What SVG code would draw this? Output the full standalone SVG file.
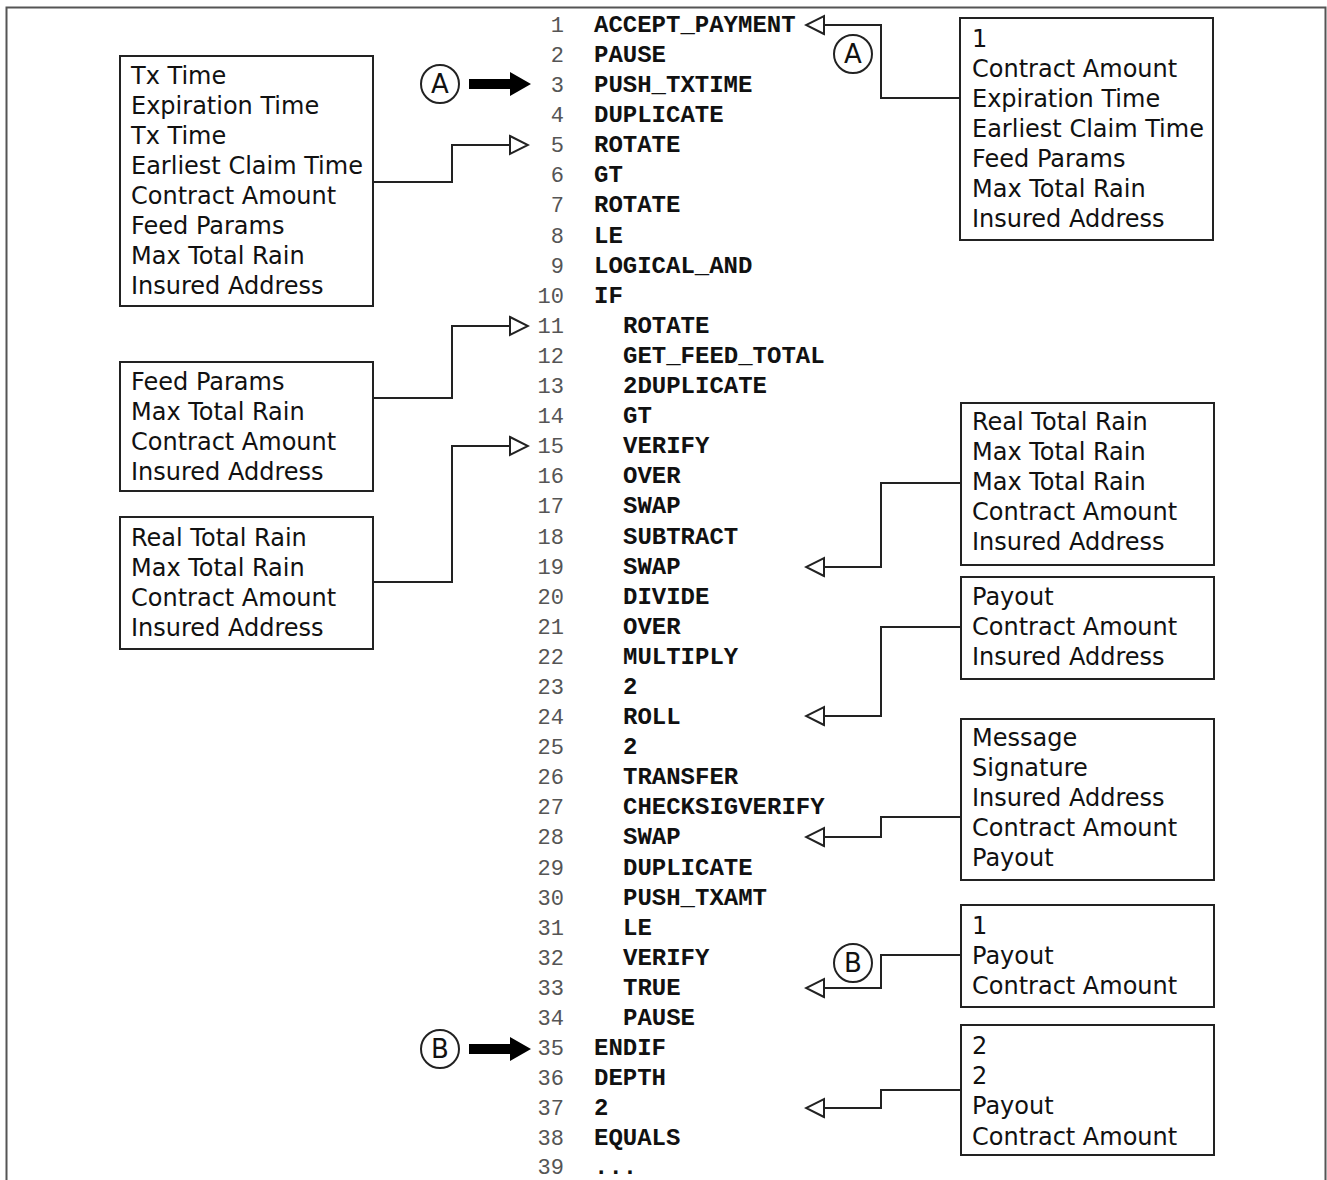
<svg xmlns="http://www.w3.org/2000/svg" width="1327" height="1180" viewBox="0 0 1327 1180">
<defs>
<style>
.box{fill:#fff;stroke:#222;stroke-width:2}
.bt{font-family:"DejaVu Sans",sans-serif;font-size:24px;fill:#111}
.num{font-family:"Liberation Mono",monospace;font-size:22px;fill:#555}
.code{font-family:"Liberation Mono",monospace;font-size:24px;font-weight:bold;fill:#111}
.con{fill:none;stroke:#222;stroke-width:2}
.circ{fill:#fff;stroke:#222;stroke-width:2}
.ct{font-family:"DejaVu Sans",sans-serif;font-size:26px;fill:#111;text-anchor:middle}
</style>
<marker id="hollow" markerUnits="userSpaceOnUse" markerWidth="22" markerHeight="22" viewBox="-2 -2 22 22" refX="18" refY="9" orient="auto">
<path d="M0,0 L18,9 L0,18 Z" fill="#fff" stroke="#222" stroke-width="2"/>
</marker>
</defs>
<rect width="1327" height="1180" fill="#fff"/>
<path d="M6.5,1180 V7.5 H1325.5 V1180" fill="none" stroke="#555" stroke-width="2"/>

<g id="code">
<g class="num" text-anchor="end">
<text x="564" y="32">1</text><text x="564" y="62">2</text><text x="564" y="92">3</text><text x="564" y="122">4</text><text x="564" y="152">5</text><text x="564" y="182">6</text><text x="564" y="212">7</text><text x="564" y="243">8</text><text x="564" y="273">9</text><text x="564" y="303">10</text>
<text x="564" y="333">11</text><text x="564" y="363">12</text><text x="564" y="393">13</text><text x="564" y="423">14</text><text x="564" y="453">15</text><text x="564" y="483">16</text><text x="564" y="513">17</text><text x="564" y="544">18</text><text x="564" y="574">19</text><text x="564" y="604">20</text>
<text x="564" y="634">21</text><text x="564" y="664">22</text><text x="564" y="694">23</text><text x="564" y="724">24</text><text x="564" y="754">25</text><text x="564" y="784">26</text><text x="564" y="814">27</text><text x="564" y="844">28</text><text x="564" y="875">29</text><text x="564" y="905">30</text>
<text x="564" y="935">31</text><text x="564" y="965">32</text><text x="564" y="995">33</text><text x="564" y="1025">34</text><text x="564" y="1055">35</text><text x="564" y="1085">36</text><text x="564" y="1115">37</text><text x="564" y="1145">38</text><text x="564" y="1174">39</text>
</g>
<g class="code">
<text x="594" y="32">ACCEPT_PAYMENT</text>
<text x="594" y="62">PAUSE</text>
<text x="594" y="92">PUSH_TXTIME</text>
<text x="594" y="122">DUPLICATE</text>
<text x="594" y="152">ROTATE</text>
<text x="594" y="182">GT</text>
<text x="594" y="212">ROTATE</text>
<text x="594" y="243">LE</text>
<text x="594" y="273">LOGICAL_AND</text>
<text x="594" y="303">IF</text>
<text x="623" y="333">ROTATE</text>
<text x="623" y="363">GET_FEED_TOTAL</text>
<text x="623" y="393">2DUPLICATE</text>
<text x="623" y="423">GT</text>
<text x="623" y="453">VERIFY</text>
<text x="623" y="483">OVER</text>
<text x="623" y="513">SWAP</text>
<text x="623" y="544">SUBTRACT</text>
<text x="623" y="574">SWAP</text>
<text x="623" y="604">DIVIDE</text>
<text x="623" y="634">OVER</text>
<text x="623" y="664">MULTIPLY</text>
<text x="623" y="694">2</text>
<text x="623" y="724">ROLL</text>
<text x="623" y="754">2</text>
<text x="623" y="784">TRANSFER</text>
<text x="623" y="814">CHECKSIGVERIFY</text>
<text x="623" y="844">SWAP</text>
<text x="623" y="875">DUPLICATE</text>
<text x="623" y="905">PUSH_TXAMT</text>
<text x="623" y="935">LE</text>
<text x="623" y="965">VERIFY</text>
<text x="623" y="995">TRUE</text>
<text x="623" y="1025">PAUSE</text>
<text x="594" y="1055">ENDIF</text>
<text x="594" y="1085">DEPTH</text>
<text x="594" y="1115">2</text>
<text x="594" y="1145">EQUALS</text>
<text x="594" y="1174">...</text>
</g>
</g>

<g id="box-left-1">
<rect class="box" x="120" y="56" width="253" height="250"/>
<text class="bt" x="131" y="84">Tx Time</text>
<text class="bt" x="131" y="114">Expiration Time</text>
<text class="bt" x="131" y="144">Tx Time</text>
<text class="bt" x="131" y="174">Earliest Claim Time</text>
<text class="bt" x="131" y="204">Contract Amount</text>
<text class="bt" x="131" y="234">Feed Params</text>
<text class="bt" x="131" y="264">Max Total Rain</text>
<text class="bt" x="131" y="294">Insured Address</text>
</g>
<g id="box-left-2">
<rect class="box" x="120" y="362" width="253" height="129"/>
<text class="bt" x="131" y="390">Feed Params</text>
<text class="bt" x="131" y="420">Max Total Rain</text>
<text class="bt" x="131" y="450">Contract Amount</text>
<text class="bt" x="131" y="480">Insured Address</text>
</g>
<g id="box-left-3">
<rect class="box" x="120" y="517" width="253" height="132"/>
<text class="bt" x="131" y="546">Real Total Rain</text>
<text class="bt" x="131" y="576">Max Total Rain</text>
<text class="bt" x="131" y="606">Contract Amount</text>
<text class="bt" x="131" y="636">Insured Address</text>
</g>
<g id="box-right-1">
<rect class="box" x="960" y="18" width="253" height="222"/>
<text class="bt" x="972" y="47">1</text>
<text class="bt" x="972" y="77">Contract Amount</text>
<text class="bt" x="972" y="107">Expiration Time</text>
<text class="bt" x="972" y="137">Earliest Claim Time</text>
<text class="bt" x="972" y="167">Feed Params</text>
<text class="bt" x="972" y="197">Max Total Rain</text>
<text class="bt" x="972" y="227">Insured Address</text>
</g>
<g id="box-right-2">
<rect class="box" x="961" y="403" width="253" height="162"/>
<text class="bt" x="972" y="430">Real Total Rain</text>
<text class="bt" x="972" y="460">Max Total Rain</text>
<text class="bt" x="972" y="490">Max Total Rain</text>
<text class="bt" x="972" y="520">Contract Amount</text>
<text class="bt" x="972" y="550">Insured Address</text>
</g>
<g id="box-right-3">
<rect class="box" x="961" y="577" width="253" height="102"/>
<text class="bt" x="972" y="605">Payout</text>
<text class="bt" x="972" y="635">Contract Amount</text>
<text class="bt" x="972" y="665">Insured Address</text>
</g>
<g id="box-right-4">
<rect class="box" x="961" y="719" width="253" height="161"/>
<text class="bt" x="972" y="746">Message</text>
<text class="bt" x="972" y="776">Signature</text>
<text class="bt" x="972" y="806">Insured Address</text>
<text class="bt" x="972" y="836">Contract Amount</text>
<text class="bt" x="972" y="866">Payout</text>
</g>
<g id="box-right-5">
<rect class="box" x="961" y="905" width="253" height="102"/>
<text class="bt" x="972" y="934">1</text>
<text class="bt" x="972" y="964">Payout</text>
<text class="bt" x="972" y="994">Contract Amount</text>
</g>
<g id="box-right-6">
<rect class="box" x="961" y="1025" width="253" height="130"/>
<text class="bt" x="972" y="1054">2</text>
<text class="bt" x="972" y="1084">2</text>
<text class="bt" x="972" y="1114">Payout</text>
<text class="bt" x="972" y="1145">Contract Amount</text>
</g>

<g id="connectors">
<path class="con" d="M960,98 H881 V25 H806" marker-end="url(#hollow)"/>
<path class="con" d="M373,182 H452 V145 H528" marker-end="url(#hollow)"/>
<path class="con" d="M373,398 H452 V326 H528" marker-end="url(#hollow)"/>
<path class="con" d="M373,582 H452 V446 H528" marker-end="url(#hollow)"/>
<path class="con" d="M961,483 H881 V567 H806" marker-end="url(#hollow)"/>
<path class="con" d="M961,627 H881 V716 H806" marker-end="url(#hollow)"/>
<path class="con" d="M961,817 H881 V837 H806" marker-end="url(#hollow)"/>
<path class="con" d="M961,955 H881 V988 H806" marker-end="url(#hollow)"/>
<path class="con" d="M961,1090 H881 V1108 H806" marker-end="url(#hollow)"/>
<polygon points="469,79 510,79 510,72 531,84 510,96 510,89 469,89" fill="#000"/>
<polygon points="469,1044 510,1044 510,1037 531,1049 510,1061 510,1054 469,1054" fill="#000"/>
</g>

<g id="label-A-left">
<circle class="circ" cx="440" cy="84" r="19"/>
<text class="ct" x="440" y="93">A</text>
</g>
<g id="label-A-right">
<circle class="circ" cx="853" cy="54" r="19"/>
<text class="ct" x="853" y="63">A</text>
</g>
<g id="label-B-left">
<circle class="circ" cx="440" cy="1049" r="19"/>
<text class="ct" x="440" y="1058">B</text>
</g>
<g id="label-B-right">
<circle class="circ" cx="853" cy="963" r="19"/>
<text class="ct" x="853" y="972">B</text>
</g>
</svg>
